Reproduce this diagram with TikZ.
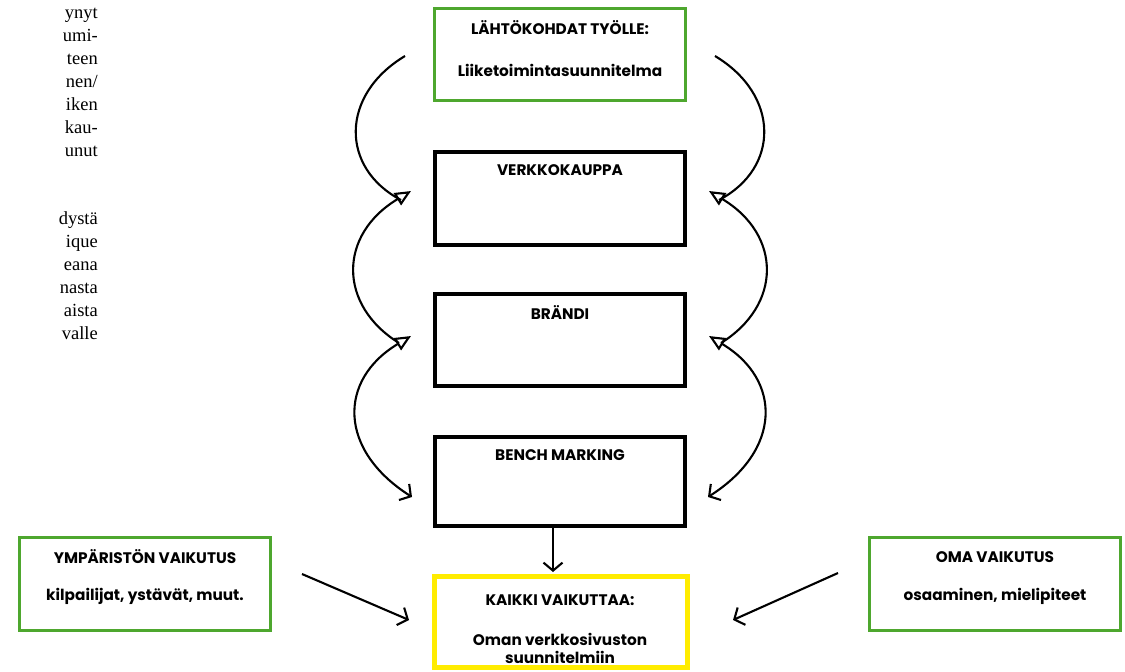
\documentclass[tikz,border=0pt]{standalone}
\usepackage{fontspec}
\setmainfont{Liberation Serif}
\newfontfamily\gothic{Poppins}
\usetikzlibrary{arrows.meta}
\definecolor{boxgreen}{RGB}{78,167,46}
\definecolor{boxyellow}{RGB}{255,236,0}
\begin{document}
\begin{tikzpicture}[x=1pt,y=-1pt,
  box/.style={draw, inner sep=0pt, minimum width=251pt, minimum height=92pt},
  greenbox/.style={box, draw=boxgreen, line width=3pt},
  blackbox/.style={box, draw=black, line width=4pt},
  yellowbox/.style={box, draw=boxyellow, line width=5pt, minimum width=253pt, minimum height=91pt},
  lbl/.style={font=\gothic\bfseries\fontsize{15.3}{18}\selectfont, inner sep=0pt},
  margintext/.style={font=\fontsize{18.5}{18.5}\selectfont, anchor=base east, inner sep=0pt},
  arc/.style={line width=2.1pt},
  tri/.style={-{Triangle[open, length=16pt, width=14pt, line width=2.1pt]}},
  barb/.style={-{Straight Barb[length=8pt, width=19pt, line width=2.1pt]}},
  tribarb/.style={{Triangle[open, length=16pt, width=14pt, line width=2.1pt]}-{Straight Barb[length=8pt, width=19pt, line width=2.1pt]}}
]
\useasboundingbox (0,0) rectangle (1125,672);

% margin text (cut-off page text)
\foreach \t [count=\i] in {ynyt,umi-,teen,nen/,iken,kau-,unut}
  \node[margintext] (m\i) at (98,{18+23*(\i-1)}) {\t};
\foreach \t [count=\i] in {dystä,ique,eana,nasta,aista,valle}
  \node[margintext] (n\i) at (98,{224+23*(\i-1)}) {\t};

% boxes
\node[greenbox] (start) at (560,54.5) {};
\node[blackbox, minimum width=250pt, minimum height=93pt] (shop) at (560,198.5) {};
\node[blackbox, minimum width=250pt, minimum height=92pt] (brand) at (560,340) {};
\node[blackbox, minimum width=250pt, minimum height=89pt] (bench) at (560,481.5) {};
\node[yellowbox] (all) at (561,622) {};
\node[greenbox, minimum height=93pt] (env) at (145,584) {};
\node[greenbox, minimum height=93pt] (own) at (995,584) {};

% texts
\node[lbl] (t1) at (560,28) {LÄHTÖKOHDAT TYÖLLE:};
\node[lbl] (t2) at (560,70) {Liiketoimintasuunnitelma};
\node[lbl] (t3) at (560,170) {VERKKOKAUPPA};
\node[lbl] (t4) at (560,313) {BRÄNDI};
\node[lbl] (t5) at (560,455) {BENCH MARKING};
\node[lbl] (t6) at (145,557) {YMPÄRISTÖN VAIKUTUS};
\node[lbl] (t7) at (145,596) {kilpailijat, ystävät, muut.};
\node[lbl] (t8) at (995,557) {OMA VAIKUTUS};
\node[lbl] (t9) at (995,596) {osaaminen, mielipiteet};
\node[lbl] (t10) at (560,600) {KAIKKI VAIKUTTAA:};
\node[lbl, align=center] (t11) at (560,648) {Oman verkkosivuston\\suunnitelmiin};

% arc end points
\coordinate (la1) at (405,56);  \coordinate (la2) at (401,200);
\coordinate (lb1) at (399,343); \coordinate (lb2) at (411,191);
\coordinate (lc1) at (411,336); \coordinate (lc2) at (412,497);
\coordinate (ra1) at (715,56);  \coordinate (ra2) at (719,200);
\coordinate (rb1) at (721,343); \coordinate (rb2) at (709,191);
\coordinate (rc1) at (709,336); \coordinate (rc2) at (708,497);

\draw[arc] (la1) .. controls (340,95) and (340,168) .. (la2);
\draw[arc, tri] (lb1) .. controls (338,305) and (338,235) .. (lb2);
\draw[arc, tribarb] (lc1) .. controls (338,380) and (338,450) .. (lc2);
\draw[arc] (ra1) .. controls (780,95) and (780,168) .. (ra2);
\draw[arc, tri] (rb1) .. controls (782,305) and (782,235) .. (rb2);
\draw[arc, tribarb] (rc1) .. controls (782,380) and (782,450) .. (rc2);

% straight arrows
\coordinate (d1) at (553,528); \coordinate (d2) at (553,572);
\coordinate (e1) at (302,574); \coordinate (e2) at (409,620);
\coordinate (f1) at (838,573); \coordinate (f2) at (733,620);
\draw[arc, barb] (d1) -- (d2);
\draw[arc, barb] (e1) -- (e2);
\draw[arc, barb] (f1) -- (f2);
\end{tikzpicture}
\end{document}
